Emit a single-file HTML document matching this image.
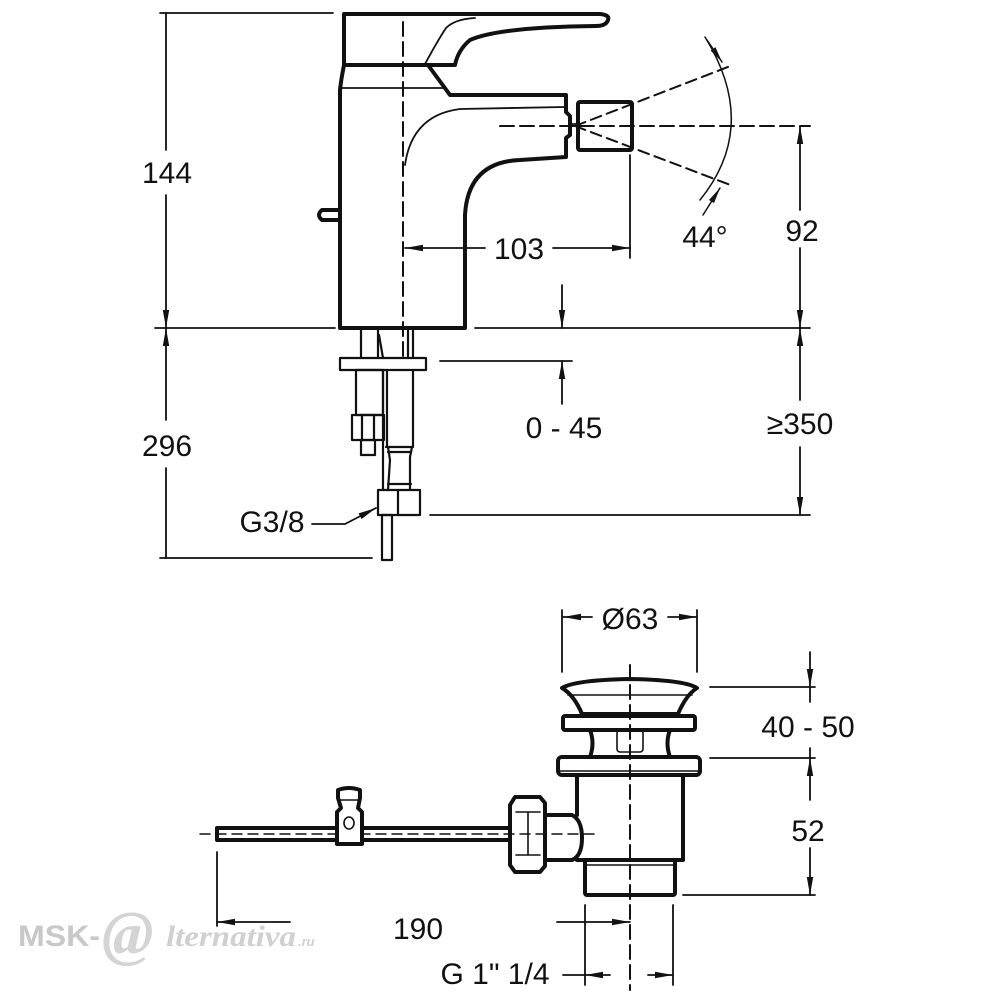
<!DOCTYPE html>
<html><head><meta charset="utf-8"><style>
html,body{margin:0;padding:0;background:#fff;width:1000px;height:1000px;overflow:hidden}
text{font-family:"Liberation Sans",Arial,sans-serif;fill:#111}
</style></head><body>
<svg width="1000" height="1000" viewBox="0 0 1000 1000" xmlns="http://www.w3.org/2000/svg">
<defs>
<marker id="a" viewBox="0 0 16 8" refX="16" refY="4" markerWidth="16" markerHeight="8" orient="auto-start-reverse" markerUnits="userSpaceOnUse"><path d="M0,1 L16,4 L0,7 z" fill="#111"/></marker>
<marker id="b" viewBox="0 0 18 8" refX="18" refY="4" markerWidth="18" markerHeight="8" orient="auto-start-reverse" markerUnits="userSpaceOnUse"><path d="M0,0.8 L18,4 L0,7.2 z" fill="#111"/></marker>
</defs>
<g stroke="#111" fill="none" stroke-linecap="round" stroke-linejoin="round">
<!-- FAUCET -->
<g stroke-width="4">
<path d="M344,65 L344,14 L600,14 Q610,15 608,20 Q606,26 596,26 Q500,27 470,40 Q458,50 455,65 Z" fill="#fff"/>
<path d="M344,65 Q341,80 340,90 L340,328 L465,328 L465,215 Q468,162 520,160 L566,157 L566,138 L570,135 L570,116 L566,112 L566,95 L450,95 L428,65"/>
<rect x="578" y="102" width="54" height="48" rx="2"/>
<path d="M340,210 L322,210 Q316,215 322,220 L340,220"/>
</g>
<g stroke-width="1.8">
<path d="M425,64 Q438,40 446,28 Q455,19 475,18"/>
<line x1="342" y1="88" x2="443" y2="88"/>
<path d="M565,107 L460,109 Q412,115 405,165"/>
<line x1="570" y1="124" x2="578" y2="124"/>
</g>
<!-- centerlines -->
<g stroke-width="2" stroke-dasharray="14,6">
<line x1="403" y1="22" x2="403" y2="360"/>
<line x1="500" y1="126" x2="810" y2="126"/>
<line x1="630" y1="665" x2="630" y2="990"/>
<line x1="200" y1="834" x2="600" y2="834" stroke-width="1.5" stroke-dasharray="10,6"/>
</g>
<g stroke-width="2" stroke-dasharray="11,6">
<line x1="575" y1="126" x2="733" y2="65"/>
<line x1="575" y1="126" x2="733" y2="186"/>
</g>
<path d="M705,37 Q760,126 700,200" stroke-width="1.5"/>
<path d="M707,40 L722,62" stroke-width="1.5" marker-end="url(#a)"/>
<path d="M703,215 L720,188" stroke-width="1.5" marker-end="url(#a)"/>
<!-- under parts -->
<g stroke-width="2.2">
<line x1="361" y1="330" x2="361" y2="358"/><line x1="378" y1="330" x2="378" y2="358"/>
<line x1="408" y1="330" x2="408" y2="358"/><line x1="413" y1="330" x2="413" y2="358"/>
<line x1="379" y1="335" x2="383" y2="358"/>
<rect x="340" y="358" width="86" height="12"/>
<rect x="356" y="370" width="27" height="45"/>
<rect x="352" y="415" width="32" height="25"/><line x1="362" y1="415" x2="362" y2="440"/><line x1="374" y1="415" x2="374" y2="440"/>
<rect x="361" y="440" width="14" height="15"/>
<line x1="383" y1="370" x2="383" y2="490"/><line x1="387" y1="370" x2="387" y2="447"/>
<line x1="413" y1="370" x2="413" y2="447"/>
<path d="M386,447 L412,447 L410,457 L410,490 M388,447 L390,460 L388,490"/>
<line x1="388" y1="452" x2="411" y2="452"/><line x1="388" y1="484" x2="411" y2="484"/>
<rect x="378" y="490" width="42" height="25"/><line x1="398" y1="490" x2="398" y2="515"/>
<rect x="382" y="515" width="10" height="45"/>
</g>
<!-- DRAIN -->
<g stroke-width="4">
<path d="M562,688 Q575,680 630,679 Q685,680 697,688 Q686,695 678,714 L582,714 Q574,695 562,688 Z"/>
<rect x="563" y="716" width="132" height="14" rx="2"/>
<path d="M590,730 Q595,743 590,757 M670,730 Q665,743 670,757"/>
<rect x="558" y="757" width="142" height="18" rx="4"/>
<path d="M577,775 L577,815 M577,860 L683,860 L683,775"/>
<rect x="585" y="860" width="90" height="35" rx="2"/>
<path d="M545,815 L572,815 Q582,820 582,838 Q582,856 572,860 L545,860"/>
<path d="M545,808 L545,803 L540,797 L515,797 L510,805 L510,865 L515,872 L540,872 L545,866 Z"/>
<path d="M217,828 L510,828 M217,840 L510,840 M217,828 L217,840"/>
<path d="M338,798 L338,790 Q349,786 360,790 L360,798 L358,808 L362,812 L362,844 L337,844 L337,812 L341,808 Z" fill="#fff"/>
</g>
<g stroke-width="1.6">
<line x1="568" y1="695" x2="692" y2="695"/>
<rect x="617" y="730" width="26" height="22" rx="3"/>
<line x1="560" y1="771" x2="698" y2="771"/>
<line x1="587" y1="865" x2="673" y2="865"/>
<ellipse cx="349" cy="823" rx="5" ry="6"/>
<line x1="340" y1="800" x2="358" y2="800"/>
<line x1="516" y1="812" x2="540" y2="812"/><line x1="516" y1="855" x2="540" y2="855"/>
<line x1="528" y1="812" x2="528" y2="855"/>
</g>
<!-- DIMENSIONS -->
<g stroke-width="1.8">
<line x1="160" y1="13" x2="333" y2="13"/>
<line x1="155" y1="328" x2="335" y2="328"/><line x1="475" y1="328" x2="810" y2="328"/>
<line x1="160" y1="558" x2="372" y2="558"/>
<line x1="166" y1="13" x2="166" y2="150"/>
<line x1="166" y1="195" x2="166" y2="328" marker-end="url(#b)"/>
<line x1="166" y1="420" x2="166" y2="328" marker-end="url(#b)"/>
<line x1="166" y1="468" x2="166" y2="558"/>
<line x1="630" y1="155" x2="630" y2="258"/>
<line x1="485" y1="248" x2="405" y2="248" marker-end="url(#b)"/>
<line x1="553" y1="248" x2="630" y2="248" marker-end="url(#b)"/>
<line x1="800" y1="210" x2="800" y2="126" marker-end="url(#b)"/>
<line x1="800" y1="248" x2="800" y2="328" marker-end="url(#b)"/>
<line x1="800" y1="400" x2="800" y2="328" marker-end="url(#b)"/>
<line x1="800" y1="447" x2="800" y2="515" marker-end="url(#b)"/>
<line x1="430" y1="515" x2="810" y2="515"/>
<line x1="440" y1="361" x2="572" y2="361"/>
<line x1="562" y1="285" x2="562" y2="328" marker-end="url(#b)"/>
<line x1="562" y1="404" x2="562" y2="361" marker-end="url(#b)"/>
<path d="M312,524 L345,524 L376,508" marker-end="url(#b)"/>
<!-- drain dims -->
<line x1="562" y1="610" x2="562" y2="672"/><line x1="697" y1="610" x2="697" y2="672"/>
<line x1="592" y1="617" x2="563" y2="617" marker-end="url(#b)"/>
<line x1="668" y1="617" x2="697" y2="617" marker-end="url(#b)"/>
<line x1="710" y1="687" x2="815" y2="687"/><line x1="710" y1="758" x2="815" y2="758"/>
<line x1="683" y1="895" x2="815" y2="895"/>
<line x1="810" y1="652" x2="810" y2="687" marker-end="url(#b)"/>
<line x1="810" y1="702" x2="810" y2="687"/>
<line x1="810" y1="748" x2="810" y2="758"/>
<line x1="810" y1="800" x2="810" y2="758" marker-end="url(#b)"/>
<line x1="810" y1="848" x2="810" y2="895" marker-end="url(#b)"/>
<line x1="217" y1="852" x2="217" y2="926"/>
<line x1="290" y1="922" x2="217" y2="922" marker-end="url(#b)"/>
<line x1="557" y1="922" x2="630" y2="922" marker-end="url(#b)"/>
<line x1="585" y1="905" x2="585" y2="985"/><line x1="673" y1="905" x2="673" y2="985"/>
<line x1="563" y1="975" x2="585" y2="975"/>
<line x1="610" y1="975" x2="585" y2="975" marker-end="url(#b)"/>
<line x1="648" y1="975" x2="673" y2="975" marker-end="url(#b)"/>
</g>
</g>
<g font-size="30" text-anchor="middle">
<text x="167" y="183">144</text>
<text x="167" y="456">296</text>
<text x="519" y="259">103</text>
<text x="705" y="247">44°</text>
<text x="802" y="241">92</text>
<text x="564" y="438">0 - 45</text>
<text x="800" y="434">≥350</text>
<text x="272" y="532">G3/8</text>
<text x="630" y="629">Ø63</text>
<text x="808" y="737">40 - 50</text>
<text x="808" y="841">52</text>
<text x="418" y="939">190</text>
<text x="495" y="984">G 1" 1/4</text>
</g>
<g font-weight="bold">
<text x="18" y="946" font-size="30" style="fill:#c8c8c8" textLength="82" lengthAdjust="spacingAndGlyphs">MSK-</text>
<text x="102" y="954" font-size="62" font-style="italic" style="fill:#d4d4d4;font-family:'Liberation Serif',serif">@</text>
<text x="166" y="946" font-size="30" font-style="italic" style="fill:#d0d0d0;font-family:'Liberation Serif',serif" textLength="130" lengthAdjust="spacingAndGlyphs">lternativa</text>
<text x="298" y="946" font-size="13" font-style="italic" style="fill:#d0d0d0">.ru</text>
</g>
</svg>
</body></html>
